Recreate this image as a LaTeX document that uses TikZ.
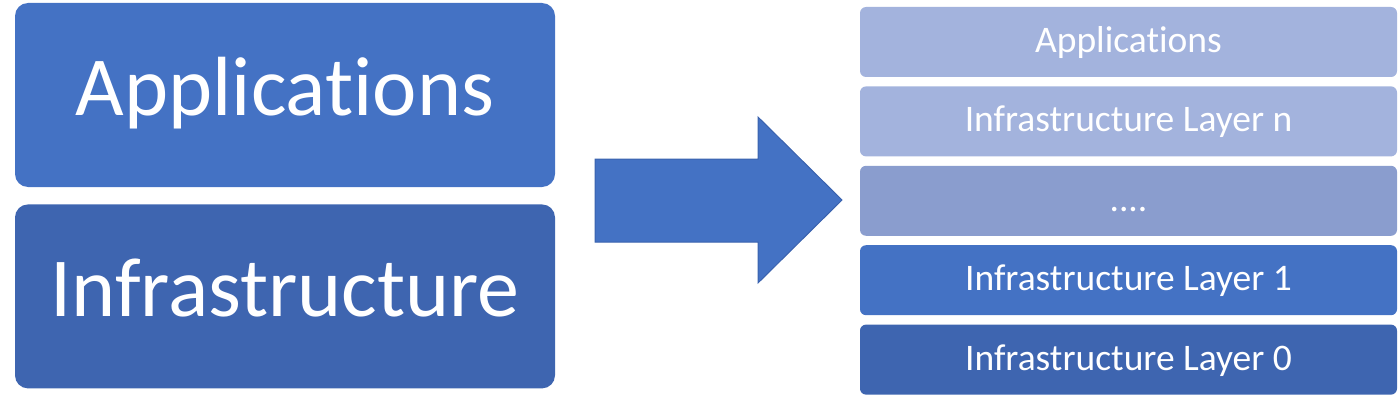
\documentclass[tikz,border=0pt]{standalone}
\usepackage{fontspec}
\setmainfont{Carlito}[Ligatures={NoCommon}]
\usepackage{tikz}
\usetikzlibrary{positioning}
\definecolor{officeblue}{RGB}{68,114,196}
\definecolor{darkblue}{RGB}{62,101,176}
\definecolor{paleblue}{RGB}{163,179,221}
\definecolor{midblue}{RGB}{138,157,206}
\definecolor{arrowline}{RGB}{58,98,174}
\tikzset{big node/.style={rectangle,rounded corners=13pt,minimum width=540pt,minimum height=184pt,inner sep=0pt,text=white,font=\fontsize{84}{90}\selectfont,text height=58pt,text depth=17pt},
layer node/.style={rectangle,rounded corners=6pt,minimum width=537pt,minimum height=70pt,inner sep=0pt,text=white,font=\fontsize{37.5}{40}\selectfont,text height=26pt,text depth=5pt},}

\begin{document}
\begin{tikzpicture}[x=1pt,y=-1pt,node distance=9pt]
	\useasboundingbox (0,0) rectangle (1400,404);
	% two blocks on the left
	\node[big node, fill=officeblue] (apps) at (285,95) {Applications};
	\node[big node, fill=darkblue] (infra) [below = 17pt of apps] {Infrastructure};

	% big arrow
	\draw[fill=officeblue, draw=arrowline, line width=1pt] (595,159) -- (758,159) -- (758,117) -- (842,200) -- (758,283) -- (758,242) -- (595,242) -- cycle;

	% layered stack on the right
	\node[layer node, fill=paleblue] (lapps) at (1128.5,42) {Applications};
	\node[layer node, fill=paleblue] (ln) [below = of lapps] {Infrastructure Layer n};
	\node[layer node, fill=midblue] (ldots) [below = of ln] {....};
	\node[layer node, fill=officeblue] (l1) [below = of ldots] {Infrastructure Layer 1};
	\node[layer node, fill=darkblue] (l0) [below = of l1] {Infrastructure Layer 0};
\end{tikzpicture}
\end{document}
